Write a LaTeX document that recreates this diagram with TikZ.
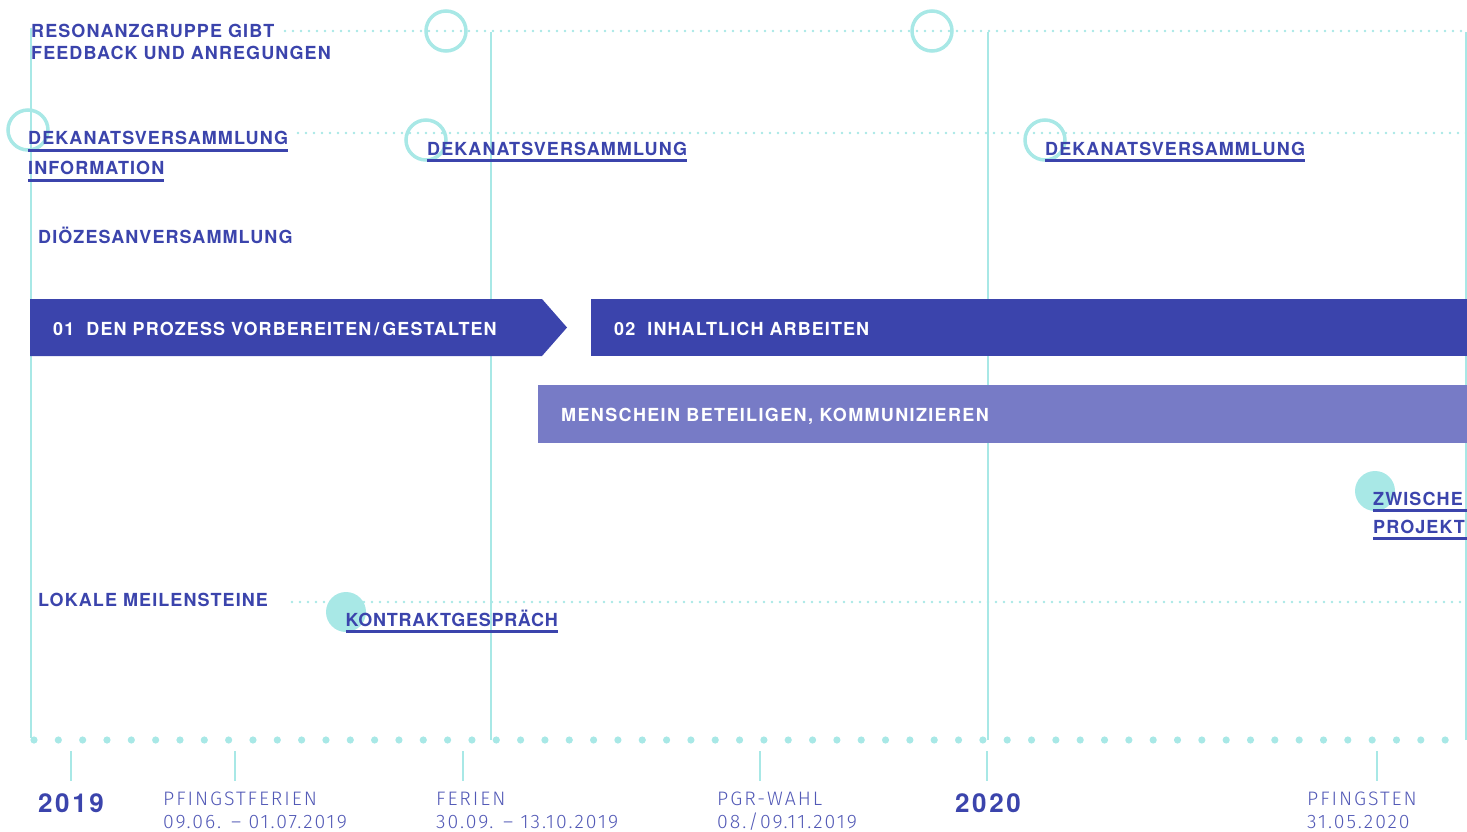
\documentclass[tikz,border=0pt]{standalone}
\usepackage{fontspec}
\newfontfamily\hfont{TeX Gyre Heros}[LetterSpace=6]
\newfontfamily\hfontw{TeX Gyre Heros}[LetterSpace=7.5]
\newfontfamily\hfontn{TeX Gyre Heros}[LetterSpace=4]
\newfontfamily\yfont{TeX Gyre Heros}[LetterSpace=10]
\newfontfamily\lfont{Fira Sans Light}[LetterSpace=10]
\definecolor{dblue}{HTML}{3B44AC}
\definecolor{lbar}{HTML}{777BC6}
\definecolor{cyanc}{HTML}{A8E8E6}
\definecolor{ltext}{HTML}{5259B6}
\tikzset{
  lbl/.style={anchor=base west, inner sep=0pt, text=dblue, font=\hfont\bfseries\fontsize{18}{22}\selectfont},
  wlbl/.style={lbl, text=white},
  datel/.style={anchor=base west, inner sep=0pt, text=ltext, font=\lfont\fontsize{19.5}{23}\selectfont},
  yearl/.style={anchor=base west, inner sep=0pt, text=dblue, font=\yfont\bfseries\fontsize{26}{30}\selectfont},
  ring/.style={circle, draw=cyanc, line width=3.5pt, minimum size=40pt, inner sep=0pt},
  disc/.style={circle, fill=cyanc, minimum size=40pt, inner sep=0pt},
  guide/.style={draw=cyanc, line width=1.5pt},
  dotline/.style={draw=cyanc, line width=2.8pt, line cap=round, dash pattern=on 0pt off 8pt},
  uline/.style={draw=dblue, line width=2.6pt},
  tickl/.style={draw=cyanc, line width=2.5pt}
}
\begin{document}
\begin{tikzpicture}[x=1pt,y=-1pt]
\useasboundingbox (0,0) rectangle (1467,832);
\clip (0,0) rectangle (1467,832);
% guides
\coordinate (g0t) at (31,28);   \coordinate (g0b) at (31,738);
\coordinate (g1t) at (491,32);  \coordinate (g1b) at (491,740);
\coordinate (g2t) at (988,32);  \coordinate (g2b) at (988,740);
\coordinate (g3t) at (1466,32); \coordinate (g3b) at (1466,740);
\draw[guide] (g0t) -- (g0b);
\draw[guide] (g1t) -- (g1b);
\draw[guide] (g2t) -- (g2b);
\draw[guide, line width=2.5pt] (g3t) -- (g3b);
% dotted rows
\coordinate (r1a) at (285,31);  \coordinate (r1b) at (1467,31);
\coordinate (r2a) at (298,133); \coordinate (r2b) at (1467,133);
\coordinate (r3a) at (292,602); \coordinate (r3b) at (1467,602);
\draw[dotline] (r1a) -- (r1b);
\draw[dotline] (r2a) -- (r2b);
\draw[dotline] (r3a) -- (r3b);
% circles
\node[ring] (c1) at (446,31) {};
\node[ring] (c2) at (932,31) {};
\node[ring] (c3) at (28,130) {};
\node[ring] (c4) at (426,140) {};
\node[ring] (c5) at (1045,140) {};
\node[disc] (d1) at (346,612) {};
\node[disc] (d2) at (1375,491) {};
% bars
\fill[dblue] (30,299) -- (542,299) -- (567,327.5) -- (542,356) -- (30,356) -- cycle;
\fill[dblue] (591,299) rectangle (1467,356);
\fill[lbar] (538,385) rectangle (1467,442.5);
\node[wlbl] (b1) at (53,335) {01\ \ DEN PROZESS VORBEREITEN\,/\,GESTALTEN};
\node[wlbl] (b2) at (614,335) {02\ \ INHALTLICH ARBEITEN};
\node[wlbl, font=\hfontw\bfseries\fontsize{18}{22}\selectfont] (b3) at (561,421.5) {MENSCHEIN BETEILIGEN, KOMMUNIZIEREN};
% labels
\node[lbl] (reso1) at (31,38) {RESONANZGRUPPE GIBT};
\node[lbl] (reso2) at (31,60) {FEEDBACK UND ANREGUNGEN};
\node[lbl] (dek1) at (28,145) {DEKANATSVERSAMMLUNG};
\node[lbl] (info) at (28,175) {INFORMATION};
\node[lbl] (dek2) at (427,155) {DEKANATSVERSAMMLUNG};
\node[lbl] (dek3) at (1045,155) {DEKANATSVERSAMMLUNG};
\node[lbl] (dioz) at (38,243) {DIÖZESANVERSAMMLUNG};
\node[lbl] (lokal) at (38,606) {LOKALE MEILENSTEINE};
\node[lbl, font=\hfontn\bfseries\fontsize{18}{22}\selectfont] (kontr) at (345.5,626) {KONTRAKTGESPRÄCH};
\node[lbl] (zw) at (1373,505) {ZWISCHE};
\node[lbl] (proj) at (1373,533) {PROJEKT};
\foreach \n in {dek1,info,dek2,dek3,kontr}
  \draw[uline] ([yshift=-5.5pt]\n.base west) -- ([yshift=-5.5pt]\n.base east);
\coordinate (zwe) at (1467,510.5);
\coordinate (pre) at (1467,538.5);
\draw[uline] ([yshift=-5.5pt]zw.base west) -- (zwe);
\draw[uline] ([yshift=-5.5pt]proj.base west) -- (pre);
% timeline
\foreach \i in {0,...,58}
  \fill[cyanc] ({34+24.33*\i},740) circle (3.6pt);
\foreach \tx in {71,235,463,760,987,1377}
  \draw[tickl] (\tx,751) -- (\tx,781);
\node[yearl] (y19) at (38,812) {2019};
\node[yearl] (y20) at (955,812) {2020};
\node[datel] (pf) at (163,805) {PFINGSTFERIEN};
\node[datel] (pfd) at (163,828) {09.06. – 01.07.2019};
\node[datel] (fe) at (436,805) {FERIEN};
\node[datel] (fed) at (436,828) {30.09. – 13.10.2019};
\node[datel] (pgr) at (717,805) {PGR-WAHL};
\node[datel] (pgrd) at (717,828) {08./09.11.2019};
\node[datel] (pfi) at (1307,805) {PFINGSTEN};
\node[datel] (pfid) at (1307,828) {31.05.2020};
\end{tikzpicture}
\end{document}
